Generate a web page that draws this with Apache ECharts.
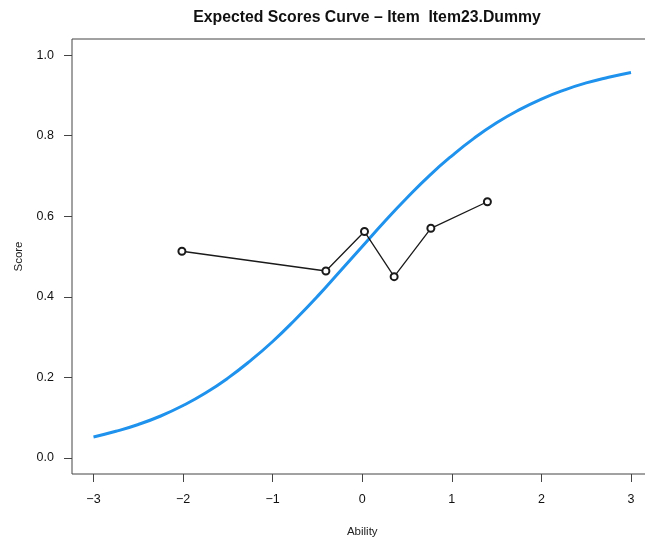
<!DOCTYPE html>
<html>
<head>
<meta charset="utf-8">
<script src="https://cdn.jsdelivr.net/npm/echarts@6/dist/echarts.min.js"></script>
<style>html,body{margin:0;padding:0;background:#fff}#c{width:645px;height:544px}</style>
</head>
<body>
<div id="c"></div>
<script>
const titleText = 'Expected Scores Curve \u2013 Item  Item23.Dummy';
const xTicks = [-3, -2, -1, 0, 1, 2, 3];
const yTicks = [0, 0.2, 0.4, 0.6, 0.8, 1.0];
const curveX = [-3, -2.75, -2.5, -2.25, -2, -1.75, -1.5, -1.25, -1, -0.75, -0.5, -0.25, 0, 0.25, 0.5, 0.75, 1, 1.25, 1.5, 1.75, 2, 2.25, 2.5, 2.75, 3];
const curveY = [0.052, 0.066, 0.083, 0.104, 0.130, 0.161, 0.198, 0.241, 0.289, 0.343, 0.401, 0.463, 0.525, 0.587, 0.646, 0.701, 0.750, 0.794, 0.832, 0.864, 0.891, 0.913, 0.931, 0.945, 0.957];
const obsX = [-2.013, -0.406, 0.025, 0.356, 0.766, 1.397];
const obsY = [0.513, 0.464, 0.562, 0.450, 0.570, 0.636];

const chart = echarts.init(document.getElementById('c'), null, {renderer: 'canvas'});
const font = 'Liberation Sans, Arial, Helvetica, sans-serif';
const fmtNum = v => String(v).replace('-', '\u2212');
chart.setOption({
  animation: false,
  backgroundColor: '#fff',
  title: {
    text: titleText, left: 362, top: 5, textAlign: 'center',
    textStyle: {fontFamily: font, fontSize: 15.8, fontWeight: 'bold', color: '#111'}
  },
  grid: {left: 72, top: 39, width: 580.5, height: 435, outerBoundsMode: 'none', containLabel: false,
    show: true, borderColor: '#444', borderWidth: 1, backgroundColor: 'transparent'},
  xAxis: {
    type: 'value', min: -3.24, max: 3.24,
    name: 'Ability', nameLocation: 'middle', nameGap: 52,
    nameTextStyle: {fontFamily: font, fontSize: 11.5, color: '#222'},
    axisLine: {show: false, onZero: false},
    splitLine: {show: false},
    axisTick: {show: true, inside: false, length: 8, customValues: xTicks, lineStyle: {color: '#444', width: 1}},
    axisLabel: {customValues: xTicks, margin: 19, fontFamily: font, fontSize: 12.5, color: '#111', formatter: fmtNum}
  },
  yAxis: {
    type: 'value', min: -0.04, max: 1.04,
    name: 'Score', nameLocation: 'middle', nameGap: 47, nameRotate: 90,
    nameTextStyle: {fontFamily: font, fontSize: 11.5, color: '#222'},
    axisLine: {show: false, onZero: false},
    splitLine: {show: false},
    axisTick: {show: true, inside: false, length: 8, customValues: yTicks, lineStyle: {color: '#444', width: 1}},
    axisLabel: {customValues: yTicks, margin: 18, fontFamily: font, fontSize: 12.5, color: '#111', formatter: v => v.toFixed(1)}
  },
  series: [
    {
      type: 'line', data: curveX.map((x, i) => [x, curveY[i]]), smooth: true, showSymbol: false,
      lineStyle: {color: '#1E92EC', width: 3}, z: 2
    },
    {
      type: 'line', data: obsX.map((x, i) => [x, obsY[i]]), symbol: 'emptyCircle', symbolSize: 7, showSymbol: true,
      lineStyle: {color: '#1a1a1a', width: 1.3},
      itemStyle: {color: '#1a1a1a', borderColor: '#1a1a1a', borderWidth: 1.1}, z: 3
    }
  ]
});
</script>
</body>
</html>
